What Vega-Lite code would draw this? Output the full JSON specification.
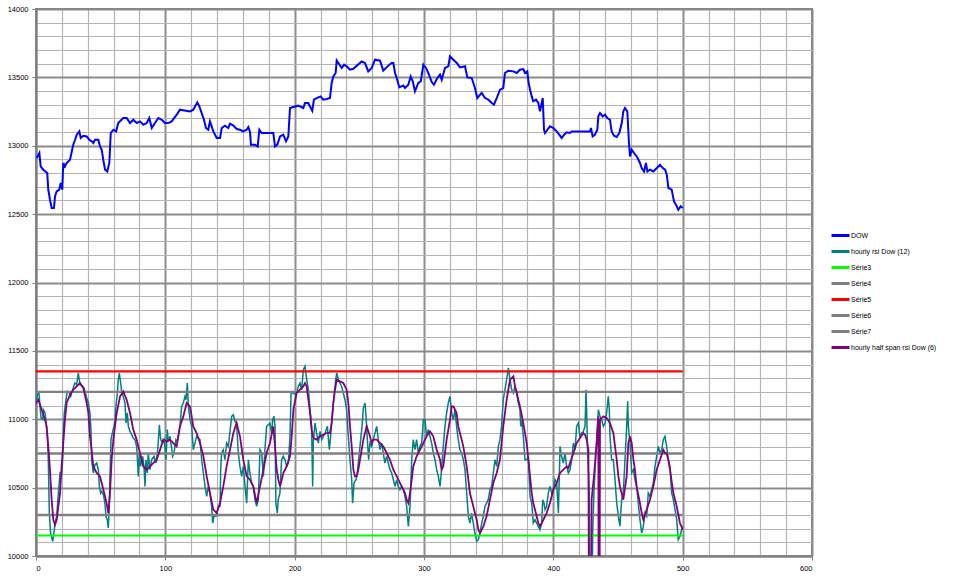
{
  "$schema": "https://vega.github.io/schema/vega-lite/v6.json",
  "width": 776,
  "height": 547,
  "autosize": {"type": "none"},
  "padding": {"left": 36, "top": 9, "right": 148, "bottom": 28},
  "background": "#ffffff",
  "config": {
    "font": "Liberation Sans",
    "view": {"stroke": "#808080", "strokeWidth": 2}
  },
  "datasets": {
    "dow": [
      {"x":0.5,"y":12910},{"x":2.6,"y":12947},{"x":3.6,"y":12849},{"x":5.6,"y":12825},{"x":8.7,"y":12800},{"x":9.5,"y":12679},{"x":10.8,"y":12605},{"x":12.1,"y":12545},{"x":13.9,"y":12545},{"x":14.7,"y":12630},{"x":16,"y":12667},{"x":18,"y":12679},{"x":19.1,"y":12728},{"x":20.3,"y":12679},{"x":21.1,"y":12874},{"x":22.4,"y":12849},{"x":23.7,"y":12874},{"x":26.3,"y":12898},{"x":28.8,"y":13008},{"x":30.2,"y":13044},{"x":31.5,"y":13081},{"x":33.5,"y":13105},{"x":34.6,"y":13057},{"x":36.6,"y":13073},{"x":39.2,"y":13068},{"x":41.2,"y":13044},{"x":43.1,"y":13032},{"x":44.3,"y":13020},{"x":45.6,"y":13044},{"x":48.2,"y":13044},{"x":49.5,"y":12995},{"x":50.8,"y":12971},{"x":52,"y":12898},{"x":53.4,"y":12825},{"x":55.1,"y":12812},{"x":56.7,"y":12874},{"x":57.8,"y":13093},{"x":59.8,"y":13117},{"x":61.9,"y":13105},{"x":63.6,"y":13166},{"x":67.5,"y":13203},{"x":70.1,"y":13203},{"x":72.7,"y":13166},{"x":75.2,"y":13190},{"x":77.9,"y":13166},{"x":80.4,"y":13178},{"x":83,"y":13154},{"x":85.6,"y":13166},{"x":87.6,"y":13203},{"x":89.5,"y":13130},{"x":92,"y":13166},{"x":94.6,"y":13203},{"x":97.2,"y":13190},{"x":99.7,"y":13166},{"x":102.3,"y":13166},{"x":104.9,"y":13178},{"x":108.8,"y":13227},{"x":111.3,"y":13264},{"x":119.1,"y":13251},{"x":121.6,"y":13264},{"x":124.7,"y":13317},{"x":126.3,"y":13288},{"x":128.1,"y":13239},{"x":129.9,"y":13190},{"x":131.4,"y":13130},{"x":133.2,"y":13117},{"x":134.5,"y":13178},{"x":137.1,"y":13105},{"x":139.7,"y":13057},{"x":142.3,"y":13057},{"x":143.6,"y":13130},{"x":146.1,"y":13147},{"x":148.7,"y":13130},{"x":150,"y":13161},{"x":152.6,"y":13147},{"x":155.2,"y":13122},{"x":157.7,"y":13117},{"x":160.3,"y":13105},{"x":162.9,"y":13117},{"x":164.2,"y":13137},{"x":165.5,"y":13100},{"x":166.2,"y":13008},{"x":169.3,"y":13008},{"x":171.4,"y":12995},{"x":172.7,"y":13117},{"x":174.5,"y":13093},{"x":183.5,"y":13093},{"x":184.8,"y":12995},{"x":186.6,"y":13008},{"x":188.7,"y":13068},{"x":191.2,"y":13081},{"x":193.3,"y":13032},{"x":195.1,"y":13068},{"x":196.4,"y":13276},{"x":198.9,"y":13283},{"x":202.8,"y":13293},{"x":206.7,"y":13276},{"x":208,"y":13313},{"x":210.5,"y":13313},{"x":213.6,"y":13256},{"x":214.9,"y":13337},{"x":217,"y":13349},{"x":220.1,"y":13361},{"x":222.1,"y":13337},{"x":224.8,"y":13342},{"x":227.3,"y":13349},{"x":228.6,"y":13459},{"x":229.9,"y":13507},{"x":231.7,"y":13532},{"x":232.5,"y":13624},{"x":236.4,"y":13569},{"x":238.2,"y":13593},{"x":240.2,"y":13581},{"x":242.8,"y":13556},{"x":245.3,"y":13563},{"x":251.8,"y":13617},{"x":254.4,"y":13605},{"x":256.9,"y":13544},{"x":259.6,"y":13569},{"x":262.1,"y":13629},{"x":266,"y":13622},{"x":268.5,"y":13549},{"x":273.2,"y":13593},{"x":275,"y":13605},{"x":276.3,"y":13605},{"x":277.6,"y":13532},{"x":278.9,"y":13495},{"x":280.9,"y":13427},{"x":284,"y":13441},{"x":285.3,"y":13422},{"x":287.9,"y":13446},{"x":289.7,"y":13507},{"x":291.3,"y":13471},{"x":293,"y":13398},{"x":295.6,"y":13459},{"x":297.5,"y":13471},{"x":299.5,"y":13593},{"x":301.6,"y":13569},{"x":303.3,"y":13532},{"x":306,"y":13466},{"x":307.7,"y":13446},{"x":310.3,"y":13495},{"x":312.4,"y":13520},{"x":313.7,"y":13483},{"x":316.2,"y":13569},{"x":318.8,"y":13581},{"x":320.1,"y":13654},{"x":322.7,"y":13629},{"x":325.3,"y":13605},{"x":327.8,"y":13573},{"x":331.7,"y":13581},{"x":333.5,"y":13500},{"x":336.9,"y":13495},{"x":339.4,"y":13422},{"x":341.2,"y":13349},{"x":344.6,"y":13386},{"x":347.2,"y":13349},{"x":349.7,"y":13337},{"x":352.4,"y":13313},{"x":354.1,"y":13300},{"x":356.2,"y":13349},{"x":358.8,"y":13410},{"x":361.3,"y":13422},{"x":362.6,"y":13532},{"x":365.2,"y":13549},{"x":369.1,"y":13544},{"x":371.7,"y":13532},{"x":374.2,"y":13556},{"x":376.8,"y":13561},{"x":378.1,"y":13532},{"x":379.9,"y":13544},{"x":380.7,"y":13471},{"x":382,"y":13410},{"x":383.3,"y":13361},{"x":384.5,"y":13325},{"x":386.6,"y":13337},{"x":388.4,"y":13313},{"x":389.7,"y":13251},{"x":391.8,"y":13349},{"x":392.8,"y":13117},{"x":393.6,"y":13093},{"x":395.4,"y":13117},{"x":397.4,"y":13142},{"x":400,"y":13130},{"x":402.6,"y":13105},{"x":406.5,"y":13057},{"x":408.3,"y":13081},{"x":410.3,"y":13098},{"x":412.9,"y":13093},{"x":414.2,"y":13105},{"x":428.4,"y":13105},{"x":429.1,"y":13130},{"x":430.4,"y":13068},{"x":432.2,"y":13081},{"x":434,"y":13117},{"x":434.8,"y":13215},{"x":436.1,"y":13239},{"x":438.2,"y":13215},{"x":440,"y":13227},{"x":441.7,"y":13203},{"x":443.8,"y":13190},{"x":445.1,"y":13105},{"x":446.9,"y":13073},{"x":449,"y":13064},{"x":451,"y":13093},{"x":452.9,"y":13166},{"x":454.1,"y":13251},{"x":455.4,"y":13276},{"x":457.2,"y":13251},{"x":458.5,"y":13020},{"x":459.3,"y":12922},{"x":460.6,"y":12971},{"x":462.4,"y":12947},{"x":464.5,"y":12922},{"x":467,"y":12874},{"x":468.3,"y":12837},{"x":470.1,"y":12812},{"x":471.6,"y":12874},{"x":472.7,"y":12812},{"x":474.7,"y":12825},{"x":477.3,"y":12812},{"x":482.5,"y":12861},{"x":484.6,"y":12837},{"x":486.4,"y":12825},{"x":487.7,"y":12788},{"x":489,"y":12691},{"x":491.5,"y":12679},{"x":493.3,"y":12593},{"x":494.8,"y":12569},{"x":496.6,"y":12532},{"x":498.5,"y":12557},{"x":500,"y":12545}
    ],
    "rsi": [
      {"x":0,"y":11106},{"x":1,"y":11180},{"x":2.3,"y":11192},{"x":3.1,"y":11094},{"x":3.9,"y":11009},{"x":5.2,"y":10997},{"x":5.7,"y":11070},{"x":7,"y":11046},{"x":7.7,"y":10985},{"x":8.8,"y":10875},{"x":9.5,"y":10704},{"x":10,"y":10460},{"x":10.3,"y":10314},{"x":11.3,"y":10168},{"x":12.9,"y":10107},{"x":13.9,"y":10168},{"x":14.7,"y":10241},{"x":16,"y":10290},{"x":17.3,"y":10460},{"x":18.6,"y":10607},{"x":19.8,"y":10595},{"x":20.6,"y":10704},{"x":21.1,"y":10899},{"x":21.9,"y":11046},{"x":23.2,"y":11143},{"x":24.2,"y":11204},{"x":25.8,"y":11192},{"x":26.8,"y":11167},{"x":28.3,"y":11216},{"x":30.1,"y":11265},{"x":31.4,"y":11253},{"x":32.7,"y":11338},{"x":34,"y":11253},{"x":36.6,"y":11240},{"x":37.9,"y":11204},{"x":39.2,"y":11155},{"x":40.5,"y":11119},{"x":41.7,"y":11046},{"x":42.5,"y":10924},{"x":43,"y":10704},{"x":44.3,"y":10607},{"x":45.6,"y":10668},{"x":46.9,"y":10680},{"x":48.2,"y":10631},{"x":49,"y":10509},{"x":50,"y":10460},{"x":50.8,"y":10473},{"x":52.1,"y":10448},{"x":53.3,"y":10387},{"x":54.1,"y":10290},{"x":55.1,"y":10265},{"x":55.9,"y":10205},{"x":56.7,"y":10363},{"x":57.2,"y":10582},{"x":58,"y":10851},{"x":59.3,"y":10911},{"x":60.3,"y":10948},{"x":61.1,"y":10997},{"x":61.8,"y":11094},{"x":62.9,"y":11192},{"x":63.6,"y":11289},{"x":64.4,"y":11338},{"x":65.5,"y":11265},{"x":66.2,"y":11204},{"x":67.5,"y":11167},{"x":68.8,"y":11119},{"x":69.6,"y":10972},{"x":70.6,"y":11046},{"x":71.4,"y":10948},{"x":72.7,"y":10911},{"x":74,"y":10887},{"x":75.2,"y":10863},{"x":76.5,"y":10850},{"x":77.8,"y":10802},{"x":78.3,"y":10729},{"x":79.1,"y":10582},{"x":79.9,"y":10753},{"x":80.9,"y":10655},{"x":82.5,"y":10729},{"x":83.5,"y":10655},{"x":84.3,"y":10509},{"x":85,"y":10704},{"x":86.1,"y":10607},{"x":86.8,"y":10753},{"x":88.1,"y":10631},{"x":89.4,"y":10704},{"x":91.2,"y":10729},{"x":92.8,"y":10680},{"x":94.1,"y":10777},{"x":95.4,"y":10960},{"x":96.4,"y":10851},{"x":97.9,"y":10826},{"x":99.2,"y":10851},{"x":100.5,"y":10704},{"x":101.5,"y":10924},{"x":102.3,"y":10838},{"x":103.6,"y":10875},{"x":105.7,"y":10729},{"x":106.7,"y":10753},{"x":108.2,"y":10851},{"x":109.3,"y":10838},{"x":111.3,"y":10948},{"x":112.6,"y":11094},{"x":113.9,"y":11119},{"x":115.2,"y":11167},{"x":116,"y":11143},{"x":117,"y":11265},{"x":117.8,"y":11094},{"x":119.1,"y":10997},{"x":120.4,"y":10948},{"x":121.6,"y":10777},{"x":122.9,"y":10826},{"x":124.2,"y":10875},{"x":126.8,"y":10851},{"x":128.1,"y":10704},{"x":129.4,"y":10607},{"x":130.7,"y":10509},{"x":132,"y":10436},{"x":133.2,"y":10509},{"x":134.5,"y":10460},{"x":135.8,"y":10363},{"x":136.6,"y":10241},{"x":137.6,"y":10290},{"x":139.2,"y":10290},{"x":141,"y":10363},{"x":142.3,"y":10363},{"x":142.8,"y":10631},{"x":143.5,"y":10753},{"x":144.8,"y":10777},{"x":146.1,"y":10704},{"x":147.4,"y":10826},{"x":148.7,"y":10802},{"x":150,"y":10911},{"x":151.3,"y":11021},{"x":152.6,"y":11033},{"x":153.8,"y":10985},{"x":155.1,"y":10972},{"x":156.4,"y":10753},{"x":157.7,"y":10655},{"x":159,"y":10582},{"x":160.3,"y":10655},{"x":161.6,"y":10509},{"x":162.9,"y":10387},{"x":164.2,"y":10704},{"x":165.4,"y":10607},{"x":166.7,"y":10534},{"x":168,"y":10509},{"x":169.3,"y":10412},{"x":170.6,"y":10363},{"x":171.9,"y":10412},{"x":173.2,"y":10777},{"x":174.5,"y":10753},{"x":175.8,"y":10582},{"x":177,"y":10777},{"x":178.3,"y":10948},{"x":179.6,"y":10960},{"x":180.9,"y":10972},{"x":182.2,"y":10899},{"x":183,"y":10997},{"x":184,"y":11021},{"x":184.8,"y":10948},{"x":185.5,"y":10387},{"x":186.6,"y":10314},{"x":187.3,"y":10412},{"x":188.6,"y":10460},{"x":189.9,"y":10704},{"x":191.2,"y":10729},{"x":192.5,"y":10704},{"x":193.8,"y":10655},{"x":195.1,"y":10680},{"x":196.4,"y":10875},{"x":197.2,"y":11192},{"x":199,"y":11192},{"x":201,"y":11180},{"x":202.8,"y":11240},{"x":204.1,"y":11265},{"x":205.4,"y":11216},{"x":206.7,"y":11362},{"x":208,"y":11387},{"x":209.3,"y":11289},{"x":210.6,"y":11216},{"x":211.9,"y":11070},{"x":213.1,"y":10948},{"x":213.9,"y":10509},{"x":214.4,"y":10826},{"x":215.7,"y":10972},{"x":217,"y":10899},{"x":218.3,"y":10826},{"x":219.6,"y":10911},{"x":220.9,"y":10851},{"x":222.2,"y":10875},{"x":223.5,"y":10899},{"x":225.3,"y":10948},{"x":226.8,"y":10777},{"x":227.8,"y":10875},{"x":229.4,"y":11070},{"x":230.7,"y":11192},{"x":231.7,"y":11289},{"x":232.5,"y":11338},{"x":233.8,"y":11289},{"x":235,"y":11265},{"x":236.3,"y":11240},{"x":237.6,"y":11192},{"x":238.9,"y":11143},{"x":240.2,"y":11070},{"x":241.5,"y":10875},{"x":242.8,"y":10704},{"x":244.1,"y":10558},{"x":244.8,"y":10387},{"x":245.9,"y":10534},{"x":247.4,"y":10558},{"x":248.4,"y":10607},{"x":250,"y":10753},{"x":251,"y":10851},{"x":252.1,"y":10948},{"x":253.1,"y":11082},{"x":254.4,"y":11119},{"x":255.2,"y":11021},{"x":256.2,"y":10851},{"x":257.2,"y":10704},{"x":258.2,"y":10826},{"x":259.5,"y":10802},{"x":260.8,"y":10851},{"x":262.1,"y":10899},{"x":263.4,"y":10948},{"x":264.7,"y":10851},{"x":266,"y":10777},{"x":267.3,"y":10826},{"x":268.5,"y":10753},{"x":269.8,"y":10680},{"x":271.1,"y":10729},{"x":272.4,"y":10680},{"x":273.7,"y":10631},{"x":275,"y":10607},{"x":276.3,"y":10558},{"x":277.6,"y":10509},{"x":278.9,"y":10558},{"x":280.1,"y":10509},{"x":281.4,"y":10485},{"x":282.7,"y":10509},{"x":284,"y":10485},{"x":285.3,"y":10436},{"x":286.6,"y":10363},{"x":287.9,"y":10217},{"x":289.2,"y":10363},{"x":290.5,"y":10704},{"x":291.7,"y":10851},{"x":293,"y":10777},{"x":294.3,"y":10851},{"x":295.6,"y":10753},{"x":296.9,"y":10802},{"x":298.2,"y":10826},{"x":299.5,"y":10997},{"x":300.8,"y":10997},{"x":302,"y":10875},{"x":303.3,"y":10924},{"x":304.6,"y":10875},{"x":305.9,"y":10826},{"x":307.2,"y":10753},{"x":308.5,"y":10704},{"x":309.8,"y":10631},{"x":311.1,"y":10582},{"x":312.4,"y":10509},{"x":313.6,"y":10631},{"x":314.9,"y":10802},{"x":316.2,"y":10948},{"x":317.5,"y":11046},{"x":318.8,"y":11119},{"x":320.1,"y":11167},{"x":321.4,"y":11046},{"x":322.7,"y":10997},{"x":324,"y":11070},{"x":325.2,"y":10948},{"x":326.5,"y":10851},{"x":327.8,"y":10777},{"x":329.1,"y":10753},{"x":330.4,"y":10704},{"x":331.7,"y":10631},{"x":333,"y":10460},{"x":334.3,"y":10290},{"x":335.5,"y":10241},{"x":336.8,"y":10314},{"x":338.1,"y":10241},{"x":339.4,"y":10168},{"x":340.7,"y":10107},{"x":342,"y":10119},{"x":343.3,"y":10168},{"x":344.6,"y":10241},{"x":345.9,"y":10290},{"x":347.1,"y":10363},{"x":348.4,"y":10387},{"x":349.7,"y":10412},{"x":351,"y":10485},{"x":352.3,"y":10509},{"x":353.6,"y":10607},{"x":354.9,"y":10704},{"x":356.2,"y":10655},{"x":357.5,"y":10802},{"x":358.7,"y":10851},{"x":360,"y":10948},{"x":361.3,"y":11143},{"x":362.6,"y":11216},{"x":363.9,"y":11289},{"x":365.2,"y":11375},{"x":366.5,"y":11289},{"x":367.8,"y":11216},{"x":369.1,"y":11192},{"x":370.3,"y":11240},{"x":371.7,"y":11192},{"x":372.9,"y":11119},{"x":374.2,"y":11070},{"x":374.8,"y":10948},{"x":375.5,"y":10997},{"x":376.8,"y":10875},{"x":378.1,"y":10704},{"x":379.4,"y":10704},{"x":380.7,"y":10729},{"x":381.4,"y":10558},{"x":382,"y":10436},{"x":383.3,"y":10387},{"x":384.5,"y":10241},{"x":385.8,"y":10265},{"x":387.1,"y":10241},{"x":388.4,"y":10217},{"x":389.7,"y":10192},{"x":391,"y":10241},{"x":391.8,"y":10412},{"x":392.8,"y":10387},{"x":393.6,"y":10339},{"x":394.8,"y":10363},{"x":396.1,"y":10460},{"x":397.4,"y":10509},{"x":398.7,"y":10460},{"x":400,"y":10485},{"x":401.3,"y":10558},{"x":402.6,"y":10534},{"x":403.9,"y":10314},{"x":405.2,"y":10802},{"x":406.4,"y":10729},{"x":407.7,"y":10680},{"x":409,"y":10753},{"x":410.3,"y":10655},{"x":411.6,"y":10607},{"x":412.9,"y":10631},{"x":414.2,"y":10704},{"x":415.5,"y":10826},{"x":416.8,"y":10777},{"x":418,"y":10948},{"x":419.3,"y":10972},{"x":420.6,"y":10875},{"x":421.9,"y":10899},{"x":423.2,"y":10911},{"x":424.5,"y":10948},{"x":425.3,"y":11216},{"x":425.8,"y":11046},{"x":426.5,"y":10753},{"x":427.1,"y":10631},{"x":427.8,"y":10460},{"x":428.9,"y":9000},{"x":429.6,"y":9000},{"x":430.4,"y":10168},{"x":431.4,"y":10460},{"x":432.2,"y":10631},{"x":433.5,"y":10851},{"x":434.8,"y":11070},{"x":436.1,"y":11021},{"x":437.4,"y":10997},{"x":438.7,"y":10948},{"x":440,"y":10972},{"x":441.2,"y":11046},{"x":442.5,"y":11167},{"x":443.3,"y":11070},{"x":443.8,"y":10875},{"x":445.1,"y":10704},{"x":446.4,"y":10704},{"x":447.7,"y":10558},{"x":449,"y":10387},{"x":450.3,"y":10290},{"x":451.5,"y":10217},{"x":452.8,"y":10412},{"x":454.1,"y":10460},{"x":455.4,"y":10704},{"x":456.7,"y":10948},{"x":457.5,"y":11131},{"x":458,"y":10948},{"x":459.3,"y":10826},{"x":460.6,"y":10607},{"x":461.9,"y":10631},{"x":463.1,"y":10558},{"x":464.4,"y":10509},{"x":465.7,"y":10387},{"x":467,"y":10265},{"x":468.3,"y":10168},{"x":469.6,"y":10217},{"x":470.9,"y":10314},{"x":472.2,"y":10290},{"x":473.4,"y":10460},{"x":474.7,"y":10436},{"x":476,"y":10485},{"x":477.3,"y":10534},{"x":478.6,"y":10655},{"x":479.9,"y":10729},{"x":481.2,"y":10802},{"x":482.5,"y":10753},{"x":483.8,"y":10777},{"x":485,"y":10851},{"x":486.3,"y":10875},{"x":487.6,"y":10802},{"x":488.9,"y":10704},{"x":490.2,"y":10655},{"x":491.5,"y":10460},{"x":492.8,"y":10412},{"x":494.1,"y":10339},{"x":495.4,"y":10265},{"x":496.6,"y":10119},{"x":497.9,"y":10144},{"x":499.2,"y":10192},{"x":500,"y":10217}
    ],
    "half": [
      {"x":0,"y":11119},{"x":1.8,"y":11143},{"x":4.4,"y":11070},{"x":7,"y":10997},{"x":8.2,"y":10948},{"x":9.5,"y":10802},{"x":10.8,"y":10631},{"x":12.1,"y":10412},{"x":13.4,"y":10265},{"x":14.7,"y":10229},{"x":16,"y":10265},{"x":17.3,"y":10363},{"x":18.6,"y":10460},{"x":19.8,"y":10655},{"x":21.1,"y":10826},{"x":22.4,"y":10997},{"x":23.7,"y":11119},{"x":26.3,"y":11180},{"x":28.9,"y":11216},{"x":31.4,"y":11240},{"x":34,"y":11265},{"x":36.6,"y":11228},{"x":39.2,"y":11119},{"x":40.5,"y":11046},{"x":41.7,"y":10875},{"x":43,"y":10777},{"x":44.3,"y":10655},{"x":46.9,"y":10607},{"x":49.5,"y":10582},{"x":52.1,"y":10485},{"x":54.6,"y":10387},{"x":55.9,"y":10314},{"x":57.2,"y":10460},{"x":58.5,"y":10704},{"x":59.8,"y":10851},{"x":62.4,"y":11046},{"x":65,"y":11167},{"x":67.5,"y":11204},{"x":70.1,"y":11143},{"x":72.7,"y":11046},{"x":75.2,"y":10924},{"x":77.8,"y":10851},{"x":80.4,"y":10753},{"x":83,"y":10655},{"x":85.6,"y":10631},{"x":88.1,"y":10655},{"x":90.7,"y":10680},{"x":93.3,"y":10704},{"x":95.9,"y":10777},{"x":98.4,"y":10851},{"x":101,"y":10838},{"x":103.6,"y":10851},{"x":106.2,"y":10826},{"x":108.7,"y":10802},{"x":111.3,"y":10948},{"x":113.9,"y":11021},{"x":116.5,"y":11119},{"x":119.1,"y":11094},{"x":121.6,"y":10948},{"x":124.2,"y":10899},{"x":126.8,"y":10826},{"x":129.4,"y":10729},{"x":132,"y":10582},{"x":134.5,"y":10460},{"x":137.1,"y":10339},{"x":139.7,"y":10314},{"x":142.3,"y":10387},{"x":144.8,"y":10509},{"x":147.4,"y":10655},{"x":150,"y":10777},{"x":152.6,"y":10899},{"x":155.1,"y":10972},{"x":157.7,"y":10875},{"x":160.3,"y":10704},{"x":162.9,"y":10582},{"x":165.4,"y":10558},{"x":168,"y":10509},{"x":170.6,"y":10387},{"x":173.2,"y":10509},{"x":175.8,"y":10631},{"x":178.3,"y":10753},{"x":180.9,"y":10826},{"x":183.5,"y":10948},{"x":184.8,"y":10802},{"x":186.1,"y":10631},{"x":187.4,"y":10558},{"x":188.7,"y":10509},{"x":190,"y":10558},{"x":191.2,"y":10607},{"x":193.8,"y":10655},{"x":196.4,"y":10729},{"x":197.7,"y":10875},{"x":199,"y":11070},{"x":201.5,"y":11192},{"x":204.1,"y":11216},{"x":206.7,"y":11240},{"x":208,"y":11265},{"x":209.3,"y":11240},{"x":210.6,"y":11143},{"x":211.9,"y":11046},{"x":213.1,"y":10924},{"x":214.4,"y":10863},{"x":217,"y":10851},{"x":219.6,"y":10875},{"x":222.2,"y":10887},{"x":224.7,"y":10899},{"x":227.3,"y":10899},{"x":228.6,"y":10972},{"x":229.9,"y":11119},{"x":231.2,"y":11216},{"x":232.5,"y":11289},{"x":235,"y":11277},{"x":237.6,"y":11265},{"x":240.2,"y":11216},{"x":241.5,"y":11119},{"x":242.8,"y":10948},{"x":244.1,"y":10802},{"x":245.4,"y":10631},{"x":246.6,"y":10582},{"x":247.9,"y":10582},{"x":249.2,"y":10631},{"x":250.5,"y":10704},{"x":253.1,"y":10851},{"x":255.7,"y":10948},{"x":258.2,"y":10875},{"x":259.5,"y":10826},{"x":260.8,"y":10851},{"x":263.4,"y":10851},{"x":266,"y":10826},{"x":268.5,"y":10802},{"x":271.1,"y":10753},{"x":273.7,"y":10704},{"x":276.3,"y":10631},{"x":278.9,"y":10582},{"x":281.4,"y":10534},{"x":284,"y":10485},{"x":285.3,"y":10460},{"x":286.6,"y":10412},{"x":287.9,"y":10387},{"x":289.2,"y":10460},{"x":290.5,"y":10558},{"x":291.7,"y":10655},{"x":294.3,"y":10729},{"x":296.9,"y":10777},{"x":299.5,"y":10826},{"x":302,"y":10875},{"x":304.6,"y":10911},{"x":307.2,"y":10875},{"x":309.8,"y":10777},{"x":312.4,"y":10704},{"x":313.6,"y":10631},{"x":314.9,"y":10655},{"x":317.5,"y":10851},{"x":320.1,"y":10997},{"x":321.4,"y":11094},{"x":322.7,"y":11094},{"x":325.2,"y":11046},{"x":326.5,"y":10948},{"x":327.8,"y":10899},{"x":330.4,"y":10802},{"x":333,"y":10655},{"x":334.3,"y":10558},{"x":335.5,"y":10460},{"x":338.1,"y":10363},{"x":340.7,"y":10265},{"x":342,"y":10192},{"x":343.3,"y":10168},{"x":345.9,"y":10217},{"x":348.4,"y":10290},{"x":351,"y":10412},{"x":353.6,"y":10534},{"x":356.2,"y":10607},{"x":358.7,"y":10704},{"x":360,"y":10826},{"x":361.3,"y":10948},{"x":363.9,"y":11143},{"x":366.5,"y":11289},{"x":369.1,"y":11314},{"x":370.4,"y":11240},{"x":371.7,"y":11192},{"x":372.9,"y":11143},{"x":374.2,"y":11094},{"x":376.8,"y":10972},{"x":379.4,"y":10826},{"x":380.7,"y":10704},{"x":382,"y":10582},{"x":383.3,"y":10460},{"x":384.5,"y":10387},{"x":387.1,"y":10290},{"x":388.4,"y":10241},{"x":389.7,"y":10217},{"x":391,"y":10241},{"x":392.3,"y":10265},{"x":394.8,"y":10314},{"x":397.4,"y":10387},{"x":400,"y":10485},{"x":402.6,"y":10534},{"x":405.2,"y":10607},{"x":407.7,"y":10631},{"x":410.3,"y":10655},{"x":411.6,"y":10643},{"x":412.9,"y":10680},{"x":415.5,"y":10753},{"x":418,"y":10826},{"x":420.6,"y":10863},{"x":423.2,"y":10899},{"x":424.5,"y":10887},{"x":425.8,"y":10851},{"x":427.1,"y":10777},{"x":427.8,"y":9000},{"x":428.9,"y":9000},{"x":429.6,"y":10412},{"x":431.4,"y":10582},{"x":433.5,"y":10826},{"x":434.8,"y":11021},{"x":435.1,"y":9000},{"x":435.6,"y":9000},{"x":436.1,"y":10997},{"x":438.7,"y":11021},{"x":441.2,"y":11009},{"x":443.8,"y":10972},{"x":446.4,"y":10899},{"x":447.7,"y":10802},{"x":449,"y":10704},{"x":450.3,"y":10582},{"x":451.5,"y":10509},{"x":454.1,"y":10412},{"x":456.7,"y":10582},{"x":458,"y":10826},{"x":459.3,"y":10875},{"x":460.6,"y":10826},{"x":461.9,"y":10704},{"x":463.1,"y":10631},{"x":464.4,"y":10509},{"x":467,"y":10387},{"x":468.3,"y":10314},{"x":469.6,"y":10265},{"x":472.2,"y":10339},{"x":474.7,"y":10412},{"x":477.3,"y":10509},{"x":479.9,"y":10631},{"x":482.5,"y":10704},{"x":485,"y":10777},{"x":486.3,"y":10753},{"x":487.6,"y":10753},{"x":488.9,"y":10704},{"x":490.2,"y":10631},{"x":492.8,"y":10460},{"x":495.4,"y":10363},{"x":497.9,"y":10241},{"x":500,"y":10192}
    ],
    "refs": [
      {"s":"Série3","x":0,"y":10150},{"s":"Série3","x":500,"y":10150},
      {"s":"Série4","x":0,"y":11200},{"s":"Série4","x":500,"y":11200},
      {"s":"Série5","x":0,"y":11350},{"s":"Série5","x":500,"y":11350},
      {"s":"Série6","x":0,"y":10750},{"s":"Série6","x":500,"y":10750},
      {"s":"Série7","x":0,"y":10300},{"s":"Série7","x":500,"y":10300}
    ]
  },
  "encoding": {
    "x": {
      "field": "x", "type": "quantitative",
      "scale": {"domain": [0, 600], "nice": false, "zero": false},
      "axis": {
        "title": null,
        "values": [0,20,40,60,80,100,120,140,160,180,200,220,240,260,280,300,320,340,360,380,400,420,440,460,480,500,520,540,560,580,600],
        "labelExpr": "datum.value % 100 === 0 ? datum.label : ''",
        "format": "d",
        "labelOverlap": false,
        "labelFont": "Liberation Sans", "labelFontSize": 7.5, "labelColor": "#000000", "labelPadding": 4,
        "tickSize": 4, "tickColor": "#808080",
        "tickOpacity": {"condition": {"test": "datum.value % 100 === 0", "value": 1}, "value": 0},
        "domainColor": "#808080", "domainWidth": 2,
        "grid": true,
        "gridColor": {"condition": {"test": "datum.value % 100 === 0", "value": "#8c8c8c"}, "value": "#b4b4b4"},
        "gridWidth": {"condition": {"test": "datum.value % 100 === 0", "value": 2}, "value": 1.2}
      }
    },
    "y": {
      "field": "y", "type": "quantitative",
      "scale": {"domain": [10000, 14000], "nice": false, "zero": false},
      "axis": {
        "title": null,
        "values": [10000,10100,10200,10300,10400,10500,10600,10700,10800,10900,11000,11100,11200,11300,11400,11500,11600,11700,11800,11900,12000,12100,12200,12300,12400,12500,12600,12700,12800,12900,13000,13100,13200,13300,13400,13500,13600,13700,13800,13900,14000],
        "labelExpr": "datum.value % 500 === 0 ? datum.label : ''",
        "format": "d",
        "labelOverlap": false,
        "labelFont": "Liberation Sans", "labelFontSize": 7.5, "labelColor": "#000000", "labelPadding": 4,
        "tickSize": 4, "tickColor": "#808080",
        "tickOpacity": {"condition": {"test": "datum.value % 500 === 0", "value": 1}, "value": 0},
        "domainColor": "#808080", "domainWidth": 2,
        "grid": true,
        "gridColor": {"condition": {"test": "datum.value % 500 === 0", "value": "#8c8c8c"}, "value": "#b4b4b4"},
        "gridWidth": {"condition": {"test": "datum.value % 500 === 0", "value": 2}, "value": 1.2}
      }
    }
  },
  "layer": [
    {
      "data": {"name": "dow"},
      "mark": {"type": "line", "strokeWidth": 2, "clip": true, "interpolate": "linear"},
      "encoding": {"color": {"datum": "DOW", "type": "nominal"}}
    },
    {
      "data": {"name": "rsi"},
      "mark": {"type": "line", "strokeWidth": 1.5, "clip": true},
      "encoding": {"color": {"datum": "hourly rsi Dow (12)", "type": "nominal"}}
    },
    {
      "data": {"name": "refs"},
      "mark": {"type": "line", "clip": true},
      "encoding": {
        "color": {
          "field": "s", "type": "nominal",
          "scale": {
            "domain": ["DOW","hourly rsi Dow (12)","Série3","Série4","Série5","Série6","Série7","hourly half span rsi Dow (6)"],
            "range": ["#0000ff","#008080","#00ff00","#808080","#ff0000","#808080","#808080","#800080"]
          },
          "legend": {
            "title": null,
            "orient": "none",
            "legendX": 795,
            "legendY": 217,
            "symbolType": "M-1.16,0H1.16",
            "symbolSize": 240,
            "symbolStrokeWidth": 3,
            "symbolFillColor": "transparent",
            "labelFont": "Liberation Sans",
            "labelFontSize": 7,
            "labelColor": "#000000",
            "labelOffset": 1,
            "rowPadding": 0,
            "padding": 0,
            "labelLimit": 200
          }
        },
        "strokeWidth": {
          "field": "s", "type": "nominal",
          "scale": {"domain": ["Série3","Série4","Série5","Série6","Série7"], "range": [2, 2.5, 2, 2.5, 2.5]},
          "legend": null
        }
      }
    },
    {
      "data": {"name": "half"},
      "mark": {"type": "line", "strokeWidth": 1.8, "clip": true},
      "encoding": {"color": {"datum": "hourly half span rsi Dow (6)", "type": "nominal"}}
    }
  ]
}
